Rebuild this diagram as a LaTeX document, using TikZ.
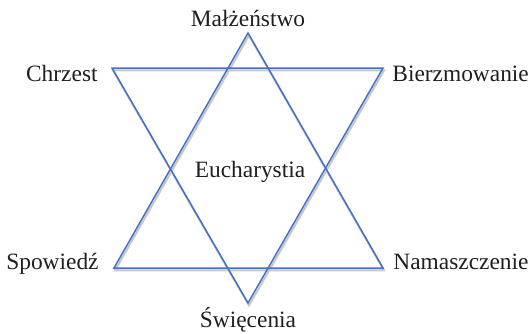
\documentclass[tikz,border=0pt]{standalone}
\usepackage{fontspec}
\setmainfont{Liberation Serif}
\usepackage{xcolor}
\usepackage{tikz}
\usetikzlibrary{positioning}

\definecolor{starblue}{RGB}{68,114,196}

\begin{document}
\begin{tikzpicture}[
  x=0.5pt, y=-0.5pt,
  tri/.style        = {draw=starblue, line width=0.75pt, line join=miter},
  shadowline/.style = {draw=black!22, line width=1pt,
                       transform canvas={shift={(0.5pt,-1.2pt)}}},
  lbl/.style        = {inner sep=0pt, text=black!88,
                       font=\fontsize{11.7}{14}\selectfont}
]
\useasboundingbox (0,0) rectangle (531,333);

%% ---- vertices of the star ----
\coordinate (t)  at (248,33);
\coordinate (bl) at (114,268);
\coordinate (br) at (383,268);
\coordinate (ul) at (112,68);
\coordinate (ur) at (383,68);
\coordinate (b)  at (248,303);

%% ---- shadow, then the two triangles ----
\draw[shadowline] (t) -- (bl) -- (br) -- cycle;
\draw[shadowline] (ul) -- (ur) -- (b) -- cycle;
\draw[tri] (t) -- (bl) -- (br) -- cycle;
\draw[tri] (ul) -- (ur) -- (b) -- cycle;

%% ---- labels ----
\node[lbl, above=3pt of t] (malz) {Małżeństwo};
\node[lbl, base left=7pt of ul, yshift=-6.5pt] (chrzest) {Chrzest};
\node[lbl, base right=4.5pt of ur, yshift=-6.5pt] (bierzm) {Bierzmowanie};
\node[lbl, base left=7.5pt of bl, yshift=-0.5pt] (spow) {Spowiedź};
\node[lbl, base right=5pt of br, yshift=-0.5pt] (namasz) {Namaszczenie};
\node[lbl, anchor=base] (swiec) at ([yshift=-12pt]b) {Święcenia};
\node[lbl, anchor=base] (euch) at (250,177) {Eucharystia};

\end{tikzpicture}
\end{document}
